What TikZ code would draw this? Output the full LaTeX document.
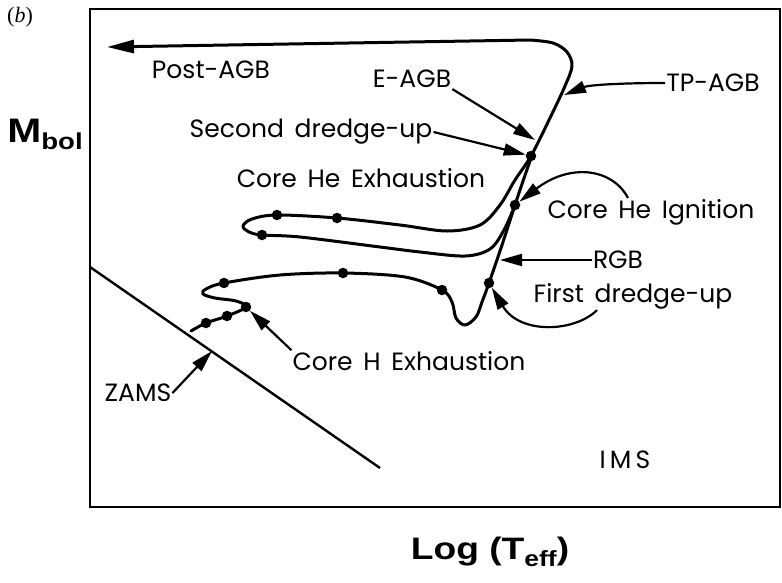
\documentclass[tikz,border=0pt]{standalone}
\usepackage{fontspec}
\setmainfont{Poppins}[WordSpace=1.6]
\newfontfamily\axisfont[FakeStretch=1.2]{Liberation Sans}
\newfontfamily\panelfont{Liberation Serif}
\usetikzlibrary{arrows.meta}

\tikzset{
  track/.style={line width=3pt,line join=round,line cap=round},
  pointer/.style={line width=2.2pt,-{Triangle[length=22pt,width=12pt]}},
  dot/.style={circle,fill=black,inner sep=0pt,minimum size=10.5pt},
  lbl/.style={font=\fontsize{25}{27}\selectfont,inner sep=1pt},
}

\begin{document}
\begin{tikzpicture}[x=1pt,y=-1pt]
  \useasboundingbox (0,0) rectangle (782,582);
  \draw[line width=2.4pt] (90,9) rectangle (780,507);
  \draw[line width=2.4pt] (90,267) -- (380,468);

  \draw[track] plot[smooth,tension=0.55] coordinates {
      (191,331) (206,323) (227,316) (246,307) (236,301) (215,298) (203,294)
      (206,289) (224,283) (280,275) (343,273) (405,277) (442,290) (452,302)
      (456,318) (465,325) (476,317) (482,302) (489,283) (502,245) (515,205)};
  \draw[track,-{Triangle[length=27pt,width=13pt]}] plot[smooth,tension=0.55] coordinates {
      (515,205) (504,230) (490,249) (465,256) (420,252) (380,247) (300,237)
      (262,235) (249,232) (243,226) (252,219) (277,215) (337,218) (400,225)
      (447,231) (480,225) (500,205) (515,180) (531,156) (550,118) (565,86)
      (572,66) (567,52) (553,43) (530,40)} -- (107,47);
  \draw[track] plot[smooth] coordinates {(515,205) (522,184) (530,161)};

  \node[dot] (zams1) at (206,323) {};
  \node[dot] (zams2) at (227,316) {};
  \node[dot] (hexh) at (246,307) {};
  \node[dot] (hook) at (224,283) {};
  \node[dot] (gap) at (343,273) {};
  \node[dot] (bump) at (442,290) {};
  \node[dot] (fdudot) at (489,283) {};
  \node[dot] (heign) at (515,205) {};
  \node[dot] (loopa) at (262,235) {};
  \node[dot] (loopb) at (277,215) {};
  \node[dot] (loopc) at (337,218) {};
  \node[dot] (sdudot) at (531,156) {};

  \coordinate (eagbtip) at (535,140);
  \coordinate (tpagbtip) at (564,95);
  \coordinate (rgbtip) at (500,260);
  \coordinate (zamstip) at (212,351);

  \node (panel) at (20,17) {\panelfont\fontsize{22}{24}\selectfont(\textit{b})};
  \node (mbol) at (45,134) {\axisfont\bfseries\fontsize{34}{36}\selectfont
      M\raisebox{-7pt}{\fontsize{23}{24}\selectfont bol}};
  \node (logt) at (490,552) {\axisfont\bfseries\fontsize{31}{33}\selectfont
      Log (T\raisebox{-7pt}{\fontsize{22}{23}\selectfont eff})};

  \node[lbl] (postagb) at (211,70) {Post-AGB};
  \node[lbl] (eagb) at (412,79) {E-AGB};
  \node[lbl] (tpagb) at (713,83) {TP-AGB};
  \node[lbl] (sdu) at (311,132) {Second dredge-up};
  \node[lbl] (chex) at (361,178) {Core He Exhaustion};
  \node[lbl] (chign) at (651,212) {Core He Ignition};
  \node[lbl] (rgb) at (618,260) {RGB};
  \node[lbl] (fdu) at (633,296) {First dredge-up};
  \node[lbl] (chx) at (409,361) {Core H Exhaustion};
  \node[lbl] (zams) at (138,393) {ZAMS};
  \node[lbl] (ims) at (625,460) {I\,M\,S};

  \draw[pointer] (eagb.south east) -- (eagbtip);
  \draw[pointer] (tpagb.west) .. controls +(-45,0) and +(25,-10) .. (tpagbtip);
  \draw[pointer] (sdu.east) -- (sdudot);
  \draw[pointer] ([xshift=-23pt]chign.north) .. controls (612,168) and (570,163) .. (heign);
  \draw[pointer] (rgb.west) -- (rgbtip);
  \draw[pointer] ([xshift=-36pt]fdu.south) .. controls (575,332) and (520,335) .. (fdudot);
  \draw[pointer] (chx.north west) -- (hexh);
  \draw[pointer] (zams.east) -- (zamstip);
\end{tikzpicture}
\end{document}
